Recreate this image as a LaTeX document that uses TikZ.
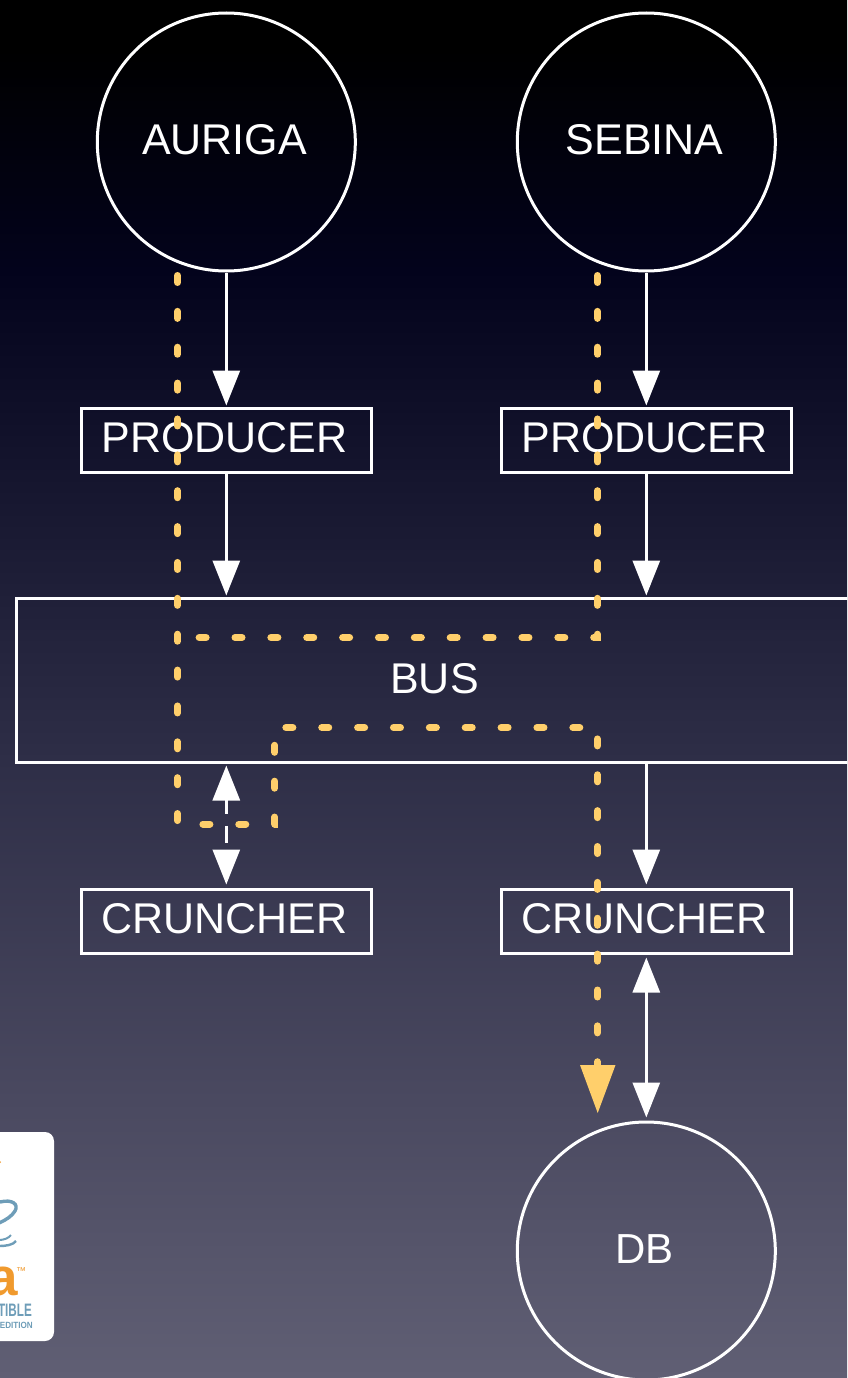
\documentclass[tikz,border=0pt]{standalone}
\usepackage{fontspec}
\usepackage{graphicx}
\setmainfont{Liberation Sans}
\usetikzlibrary{arrows.meta,calc}
\definecolor{dashc}{HTML}{FFCF6B}
\definecolor{javab}{HTML}{6E9DB8}
\definecolor{javao}{HTML}{F09A2E}
\definecolor{g0}{HTML}{000000}
\definecolor{g1}{HTML}{03031C}
\definecolor{g2}{HTML}{2E2E47}
\definecolor{g3}{HTML}{4A4960}
\definecolor{g4}{HTML}{605F74}
\pgfdeclareverticalshading{bgfinal}{100bp}{
  color(0bp)=(g4);
  color(25bp)=(g4);
  color(35.1bp)=(g3);
  color(47.4bp)=(g2);
  color(65.2bp)=(g1);
  color(73.2bp)=(g0);
  color(100bp)=(g0)}
\tikzset{
  x=1pt,y=-1pt,
  wl/.style={draw=white,line width=3pt},
  circ/.style={wl,circle,minimum size=258pt,inner sep=0pt},
  boxn/.style={wl,rectangle,minimum width=290pt,minimum height=64pt,inner sep=0pt},
  lab/.style={text=white,inner sep=0pt,font=\fontsize{43}{43}\selectfont},
  conn/.style={draw=white,line width=3pt,-{Triangle[length=35pt,width=27pt]},shorten >=1pt},
  biconn/.style={draw=white,line width=3pt,{Triangle[length=35pt,width=27pt]}-{Triangle[length=35pt,width=27pt]},shorten >=3pt,shorten <=3pt},
  orange/.style={draw=dashc,line width=7pt,line cap=round,dash pattern=on 7pt off 28.87pt},
}
\begin{document}
\begin{tikzpicture}
\useasboundingbox (0,0) rectangle (847,1378);
\clip (0,0) rectangle (847,1378);
\path[shading=bgfinal] (0,0) rectangle (847,1378);
% java badge
\fill[white,rounded corners=9pt] (-40,1132) rectangle (54,1341);
\fill[javao] (-0.5,1162) circle (1.5pt);
\draw[javab,line width=3.4pt] (0,1202) .. controls (12,1199) and (19,1204) .. (15,1211) .. controls (12,1216) and (6,1220) .. (-1,1223);
\draw[javab,line width=2pt] (-1,1240) .. controls (4,1240) and (9,1238) .. (11,1235);
\draw[javab,line width=2.4pt] (-1,1246) .. controls (6,1246) and (13,1245) .. (16,1241);
\node[inner sep=0pt,anchor=base east,text=javao,font=\fontsize{53}{53}\selectfont\bfseries] (javaA) at (18,1295) {a};
\node[inner sep=0pt,anchor=base west,text=javao,font=\fontsize{10}{10}\selectfont] (javaT) at (16,1274) {™};
\node[inner sep=0pt,anchor=base east,text=javab,font=\fontsize{18}{18}\selectfont\bfseries] (javaC) at (32,1316) {\scalebox{.65}[1]{TIBLE}};
\node[inner sep=0pt,anchor=base east,text=javab,font=\fontsize{9}{9}\selectfont\bfseries] (javaE) at (33,1328) {\scalebox{.9}[1]{EDITION}};
% nodes
\node[circ] (auriga) at (226.3,142) {};
\node[circ] (sebina) at (646.3,142) {};
\node[circ] (db) at (646.3,1251) {};
\node[boxn] (p1) at (226.3,440) {};
\node[boxn] (p2) at (646.3,440) {};
\node[boxn] (c1) at (226.3,921) {};
\node[boxn] (c2) at (646.3,921) {};
\node[wl,rectangle,minimum width=840pt,minimum height=164pt,inner sep=0pt] (bus) at (436,680) {};
% connectors
\draw[conn] (auriga) -- (p1);
\draw[conn] (sebina) -- (p2);
\draw[conn] (p1) -- (p1.south |- bus.north);
\draw[conn] (p2) -- (p2.south |- bus.north);
\draw[conn,shorten >=3pt] (p2.south |- bus.south) -- (c2);
\draw[biconn] (c2) -- (db);
\draw[biconn,shorten <=2pt,dash pattern=on 14pt off 12pt on 17pt off 60pt] (c1.north |- bus.south) -- (c1);
% labels
\node[lab] (tauriga) at (224.5,140) {AURIGA};
\node[lab] (tsebina) at (644.5,140) {SEBINA};
\node[lab] (tp1) at (224.5,438) {PRODUCER};
\node[lab] (tp2) at (644.5,438) {PRODUCER};
\node[lab] (tc1) at (224.5,919) {CRUNCHER};
\node[lab] (tc2) at (644.5,919) {CRUNCHER};
\node[lab] (tbus) at (434.5,679) {BUS};
\node[lab,font=\fontsize{42}{42}\selectfont] (tdb) at (644.5,1249.5) {DB};
% dashed flows
\coordinate (a0) at (177.5,275.5);
\coordinate (a1) at (177.5,824);
\coordinate (a2) at (274.7,824);
\coordinate (a3) at (274.7,727.6);
\coordinate (a4) at (597.4,727.6);
\coordinate (a5) at (597.4,1066);
\coordinate (s0) at (597.4,275.5);
\coordinate (s1) at (597.4,637.5);
\coordinate (s2) at (177.5,637.5);
\draw[orange] (a0) -- (a1) -- (a2) -- (a3) -- (a4) -- (a5);
\draw[orange] (s0) -- (s1) -- (s2);
\fill[dashc] (580,1065) -- (615.5,1065) -- (597.7,1113) -- cycle;
\end{tikzpicture}
\end{document}
